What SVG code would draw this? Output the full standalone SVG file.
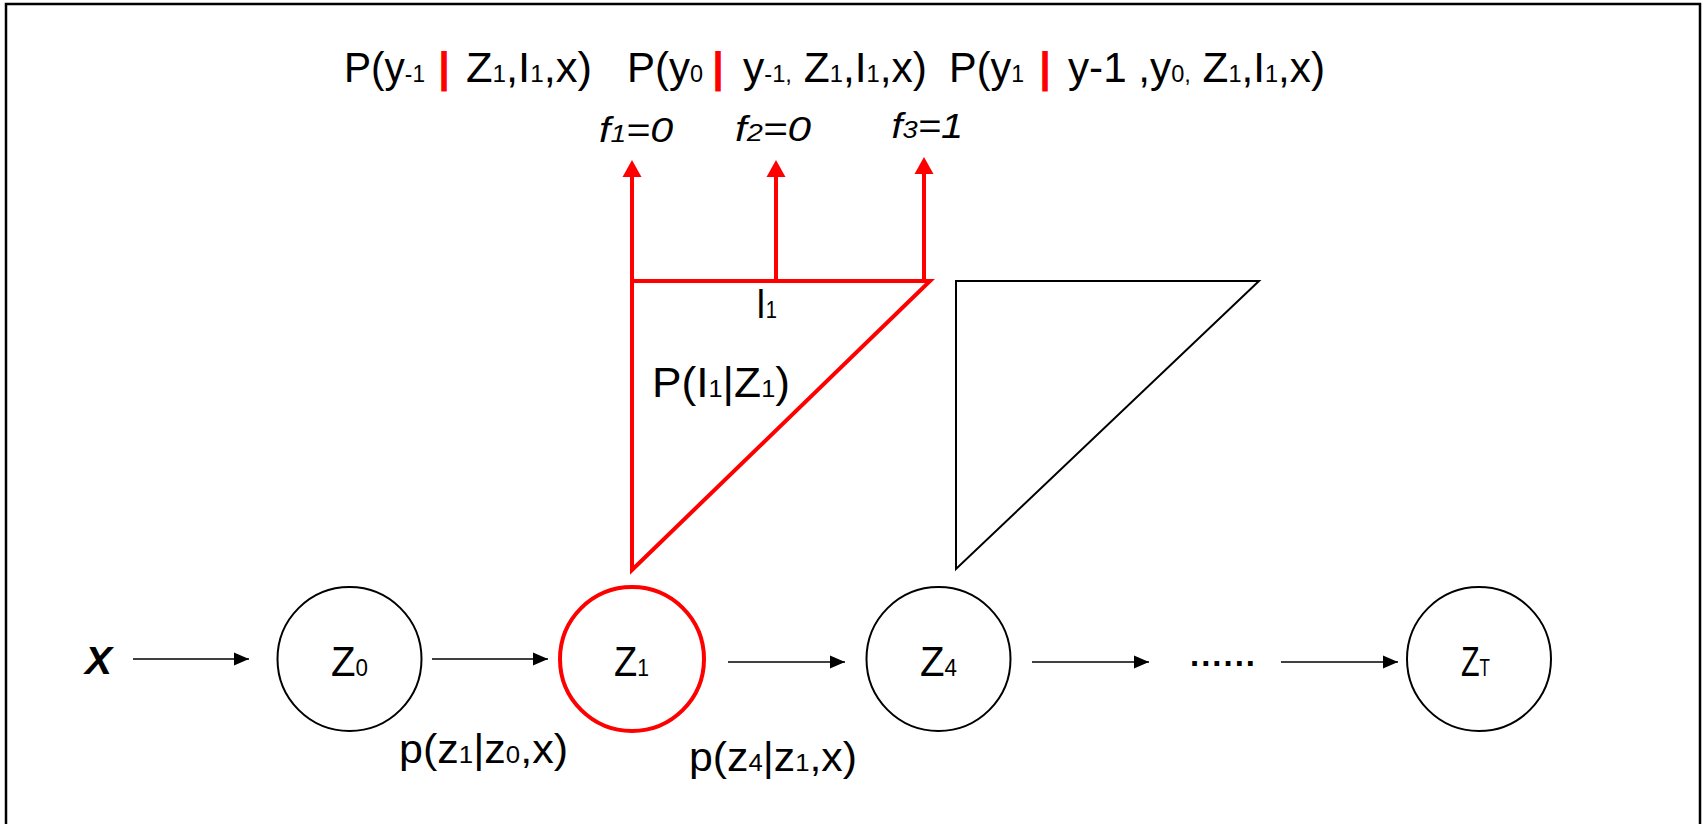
<svg xmlns="http://www.w3.org/2000/svg" width="1706" height="824" viewBox="0 0 1706 824">
<defs>
<style>
text{font-family:"Liberation Sans",Arial,sans-serif;fill:#000}
.t43{font-size:43px}
.t40{font-size:40px}
.t42{font-size:42px}
.tz{font-size:43px}
.fi{font-size:35px;font-style:italic}
.s{font-size:24px}
.bar{font-size:43px;font-weight:bold;fill:#ff0000}
.blk{fill:none;stroke:#000;stroke-width:2}
.red{fill:none;stroke:#ff0000;stroke-width:4}
.con{stroke:#000;stroke-width:1.6;fill:none}
.rcon{stroke:#ff0000;stroke-width:4;fill:none}
</style>
<marker id="ah" markerUnits="userSpaceOnUse" markerWidth="16" markerHeight="14" refX="15" refY="6.5" orient="auto" overflow="visible">
<path d="M0,0 L15,6.5 L0,13 z" fill="#000"/>
</marker>
<marker id="rah" markerUnits="userSpaceOnUse" markerWidth="18" markerHeight="19" refX="6" refY="9.5" orient="auto" overflow="visible">
<path d="M0,0 L17,9.5 L0,19 z" fill="#ff0000"/>
</marker>
</defs>
<rect width="1706" height="824" fill="#fff"/>
<rect x="6" y="4" width="1694" height="840" fill="none" stroke="#000" stroke-width="2.5"/>

<g id="formula">
<text class="t43" x="344" y="81.5" textLength="81" lengthAdjust="spacingAndGlyphs">P(y<tspan class="s">-1</tspan></text>
<text class="bar" x="444" y="81.5" text-anchor="middle">|</text>
<text class="t43" x="466" y="81.5" textLength="126" lengthAdjust="spacingAndGlyphs">Z<tspan class="s">1</tspan>,I<tspan class="s">1</tspan>,x)</text>
<text class="t43" x="627" y="81.5" textLength="76" lengthAdjust="spacingAndGlyphs">P(y<tspan class="s">0</tspan></text>
<text class="bar" x="718" y="81.5" text-anchor="middle">|</text>
<text class="t43" x="743" y="81.5" textLength="184" lengthAdjust="spacingAndGlyphs">y<tspan class="s">-1,</tspan> Z<tspan class="s">1</tspan>,I<tspan class="s">1</tspan>,x)</text>
<text class="t43" x="949" y="81.5" textLength="75" lengthAdjust="spacingAndGlyphs">P(y<tspan class="s">1</tspan></text>
<text class="bar" x="1045" y="81.5" text-anchor="middle">|</text>
<text class="t43" x="1068" y="81.5" textLength="257" lengthAdjust="spacingAndGlyphs">y-1 ,y<tspan class="s">0,</tspan> Z<tspan class="s">1</tspan>,I<tspan class="s">1</tspan>,x)</text>
</g>

<g id="f-labels">
<text class="fi" x="599" y="141.5" textLength="74" lengthAdjust="spacingAndGlyphs">f<tspan class="s">1</tspan>=0</text>
<text class="fi" x="735" y="141" textLength="76" lengthAdjust="spacingAndGlyphs">f<tspan class="s">2</tspan>=0</text>
<text class="fi" x="891.5" y="138" textLength="71.5" lengthAdjust="spacingAndGlyphs">f<tspan class="s">3</tspan>=1</text>
</g>

<g id="intent-l1">
<path class="red" d="M632,570 L632,281 L930,281 Z"/>
<text class="t42" x="756" y="318" textLength="21" lengthAdjust="spacingAndGlyphs">I<tspan class="s">1</tspan></text>
<text class="t42" x="652" y="397" textLength="138" lengthAdjust="spacingAndGlyphs">P(I<tspan class="s">1</tspan>|Z<tspan class="s">1</tspan>)</text>
</g>

<g id="intent-l4">
<path class="blk" d="M956,569 L956,281 L1259,281 Z"/>
</g>

<g id="x">
<text x="85" y="674" style="font-size:38px;font-weight:bold;font-style:italic" textLength="27" lengthAdjust="spacingAndGlyphs">X</text>
</g>

<g id="z0">
<circle class="blk" cx="349.5" cy="659" r="72"/>
<text class="tz" x="331" y="676" textLength="37" lengthAdjust="spacingAndGlyphs">Z<tspan class="s">0</tspan></text>
</g>

<g id="z1">
<circle class="red" cx="632" cy="659" r="72"/>
<text class="tz" x="614" y="676" textLength="35" lengthAdjust="spacingAndGlyphs">Z<tspan class="s">1</tspan></text>
</g>

<g id="z4">
<circle class="blk" cx="938.5" cy="659" r="72"/>
<text class="tz" x="920" y="676" textLength="37" lengthAdjust="spacingAndGlyphs">Z<tspan class="s">4</tspan></text>
</g>

<g id="dots">
<text x="1190" y="666" style="font-size:33px;font-weight:bold;letter-spacing:2px">......</text>
</g>

<g id="zT">
<circle class="blk" cx="1479" cy="659" r="72"/>
<text class="tz" x="1461" y="676" textLength="29" lengthAdjust="spacingAndGlyphs">Z<tspan class="s">T</tspan></text>
</g>

<g id="edge-labels">
<text class="t40" x="399" y="763" textLength="169" lengthAdjust="spacingAndGlyphs">p(z<tspan class="s">1</tspan>|z<tspan class="s">0</tspan>,x)</text>
<text class="t40" x="689" y="771" textLength="168" lengthAdjust="spacingAndGlyphs">p(z<tspan class="s">4</tspan>|z<tspan class="s">1</tspan>,x)</text>
</g>

<g id="connectors">
<line class="con" x1="133" y1="659" x2="249" y2="659" marker-end="url(#ah)"/>
<line class="con" x1="432" y1="659" x2="548" y2="659" marker-end="url(#ah)"/>
<line class="con" x1="728" y1="662" x2="845" y2="662" marker-end="url(#ah)"/>
<line class="con" x1="1032" y1="662" x2="1149" y2="662" marker-end="url(#ah)"/>
<line class="con" x1="1281" y1="662" x2="1398" y2="662" marker-end="url(#ah)"/>
<line class="rcon" x1="632" y1="283" x2="632" y2="171" marker-end="url(#rah)"/>
<line class="rcon" x1="776" y1="283" x2="776" y2="171" marker-end="url(#rah)"/>
<line class="rcon" x1="924" y1="283" x2="924" y2="168" marker-end="url(#rah)"/>
</g>
</svg>
